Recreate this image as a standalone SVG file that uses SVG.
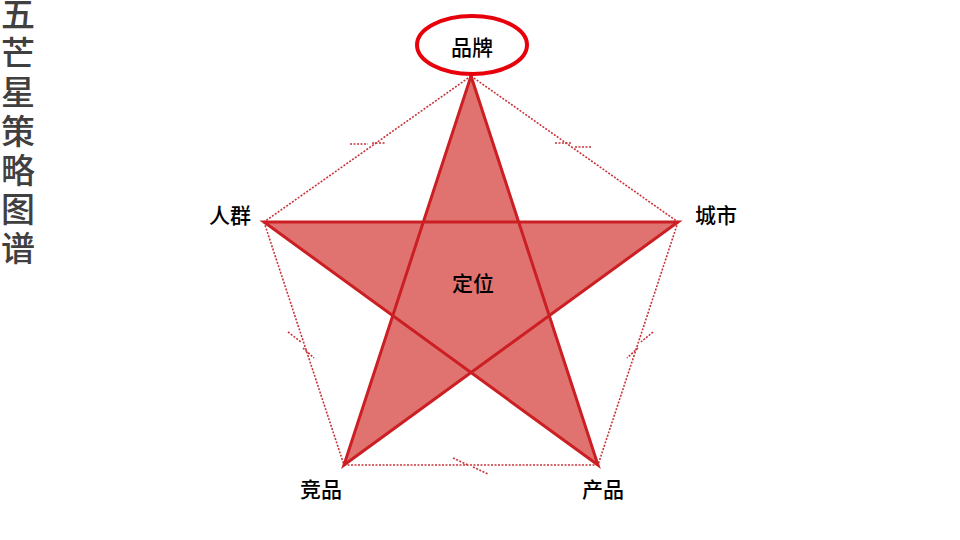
<svg xmlns="http://www.w3.org/2000/svg" width="960" height="540" viewBox="0 0 960 540">
<style>
.lbl{font-family:"Noto Sans CJK SC","Noto Sans",sans-serif;font-size:21px;font-weight:500;fill:#000;text-anchor:middle;dominant-baseline:central}
.title{font-family:"Noto Sans CJK SC","Noto Sans",sans-serif;font-size:34px;font-weight:500;fill:#404040;writing-mode:vertical-rl;letter-spacing:5px}
.dot{stroke:#C8343A;stroke-width:1.6;stroke-dasharray:2 1.5;fill:none}
</style>
<rect width="960" height="540" fill="#fff"/>
<g id="title">
<text class="title" x="18" y="-3">五芒星策略图谱</text>
</g>
<g id="connectors">
<line class="dot" x1="471" y1="76" x2="264" y2="222"/>
<line class="dot" x1="471" y1="76" x2="678" y2="222"/>
<line class="dot" x1="264" y1="222" x2="344" y2="465"/>
<line class="dot" x1="678" y1="222" x2="598" y2="465"/>
<line class="dot" x1="344" y1="465" x2="598" y2="465"/>
<line class="dot" x1="350" y1="144" x2="368" y2="144"/>
<line class="dot" x1="372" y1="143" x2="386" y2="143"/>
<line class="dot" x1="555" y1="143" x2="572" y2="143"/>
<line class="dot" x1="575" y1="147" x2="592" y2="147"/>
<line class="dot" x1="288" y1="332" x2="301" y2="342"/>
<line class="dot" x1="303" y1="348" x2="314" y2="358"/>
<line class="dot" x1="653" y1="332" x2="641" y2="342"/>
<line class="dot" x1="638" y1="348" x2="627" y2="358"/>
<line class="dot" x1="453" y1="458" x2="468" y2="465"/>
<line class="dot" x1="473" y1="467" x2="488" y2="474"/>
</g>
<g id="star">
<polygon points="471,76 598,465 264,222 678,222 344,465" fill="#E07370" stroke="#CC1F24" stroke-width="3" stroke-linejoin="miter"/>
</g>
<g id="node-brand">
<ellipse cx="472" cy="45" rx="55" ry="29" fill="none" stroke="#E8000B" stroke-width="4"/>
<text class="lbl" x="472" y="46">品牌</text>
</g>
<g id="node-crowd"><text class="lbl" x="230" y="214">人群</text></g>
<g id="node-city"><text class="lbl" x="716" y="214">城市</text></g>
<g id="node-competitor"><text class="lbl" x="321" y="488">竞品</text></g>
<g id="node-product"><text class="lbl" x="603" y="488">产品</text></g>
<g id="node-position"><text class="lbl" x="473" y="282">定位</text></g>
</svg>
